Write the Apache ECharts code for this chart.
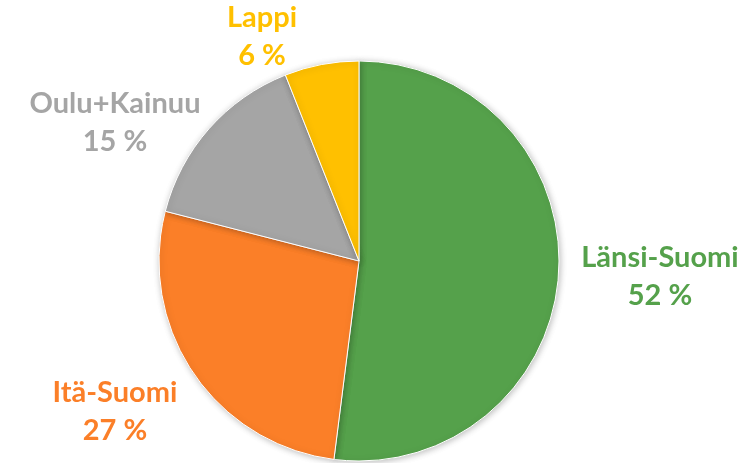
<!DOCTYPE html>
<html>
<head>
<meta charset="utf-8">
<script src="https://cdn.jsdelivr.net/npm/echarts@6/dist/echarts.min.js"></script>
<style>
  html, body { margin: 0; padding: 0; background: #fff; }
  #chart { width: 756px; height: 463px; }
</style>
</head>
<body>
<div id="chart"></div>
<script>
  var regions = ['Länsi-Suomi', 'Itä-Suomi', 'Oulu+Kainuu', 'Lappi'];
  var shares = [52, 27, 15, 6];
  var colors = ['#55A14B', '#FB7F28', '#A5A5A5', '#FFC000'];
  // label centres, by slice
  var labelPos = [[660, 277], [115, 412], [115, 123], [262, 37]];

  var chart = echarts.init(document.getElementById('chart'), null, { renderer: 'canvas' });

  var data = regions.map(function(name, i) {
    return {
      name: name,
      value: shares[i],
      itemStyle: { color: colors[i] },
      label: { color: colors[i] }
    };
  });

  chart.setOption({
    animation: false,
    backgroundColor: '#fff',
    series: [{
      type: 'pie',
      center: [359, 261],
      radius: [0, 200],
      startAngle: 90,
      clockwise: true,
      itemStyle: {
        borderColor: '#fff',
        borderWidth: 1,
        shadowColor: 'rgba(0,0,0,0.25)',
        shadowBlur: 6,
        shadowOffsetX: 1,
        shadowOffsetY: 1
      },
      label: {
        show: true,
        position: 'outside',
        formatter: '{b}\n{c} %',
        fontFamily: 'Lato',
        fontWeight: 'bold',
        fontSize: 29,
        lineHeight: 38,
        align: 'center',
        overflow: 'none'
      },
      labelLine: { show: false },
      labelLayout: function(params) {
        var p = labelPos[params.dataIndex];
        return { x: p[0], y: p[1], align: 'center', verticalAlign: 'middle' };
      },
      data: data
    }]
  });
</script>
</body>
</html>
